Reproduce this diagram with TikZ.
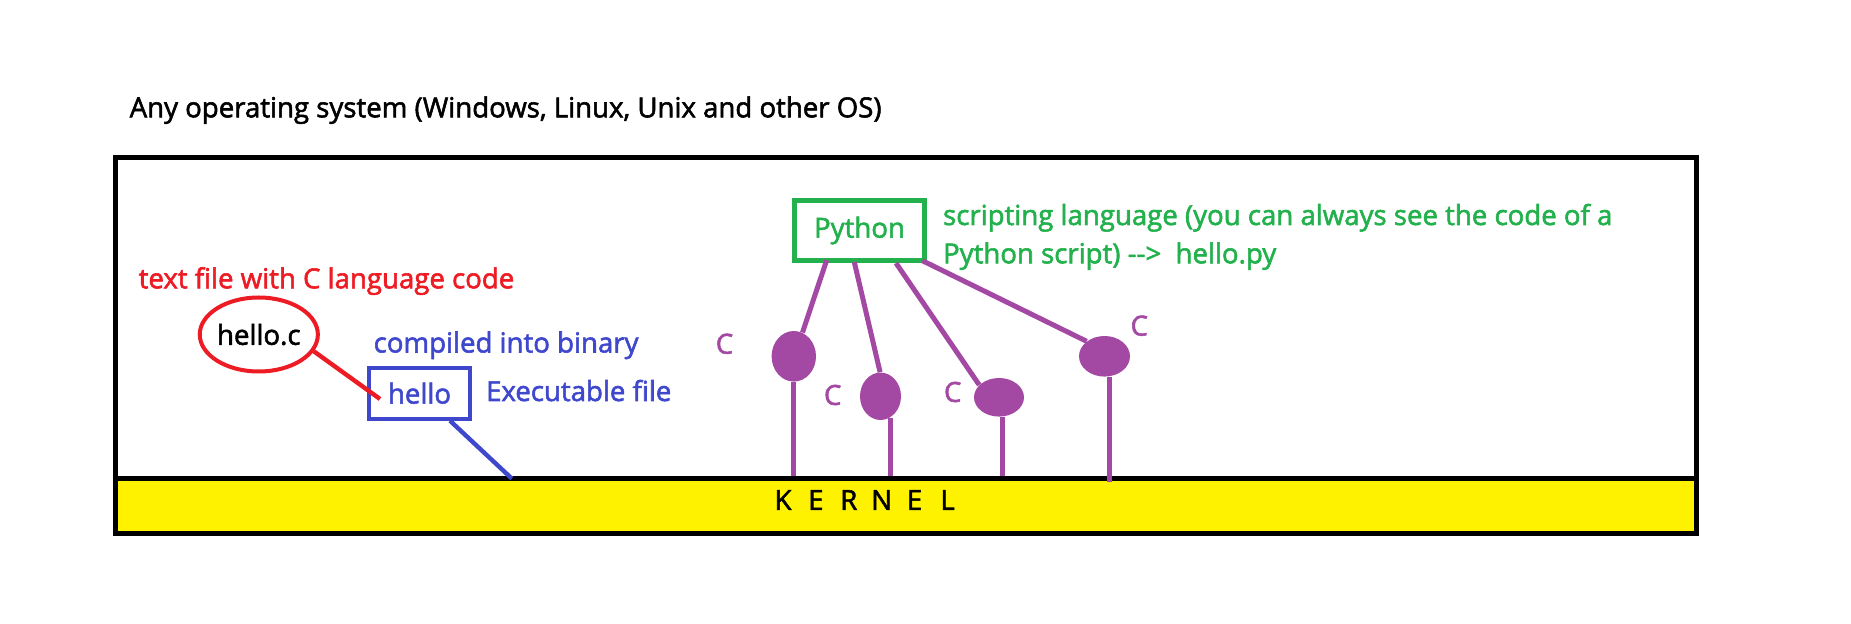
\documentclass[tikz,border=0pt]{standalone}
\usepackage{fontspec}
\setmainfont{Open Sans}[FakeBold=2]
\usetikzlibrary{calc,shapes.geometric}
\definecolor{pred}{HTML}{ED1C24}
\definecolor{pblue}{HTML}{3F48CC}
\definecolor{pgreen}{HTML}{22B14C}
\definecolor{ppurple}{HTML}{A349A4}
\definecolor{pyellow}{HTML}{FFF200}
\newcommand{\kl}[1]{\makebox[16.45pt]{#1}}
\begin{document}
\begin{tikzpicture}[x=0.5pt,y=-0.5pt,
  txt/.style={anchor=base west, inner sep=0pt, font=\fontsize{13.8}{16}\selectfont},
  framebox/.style={draw=black, line width=2.5pt, inner sep=0pt},
  cblob/.style={ellipse, fill=ppurple, inner sep=0pt},
  pline/.style={draw=ppurple, line width=2.5pt},
  clabel/.style={text=ppurple, inner sep=0pt, font=\fontsize{13.8}{16}\selectfont}]
\useasboundingbox (0,0) rectangle (1851,624);

% outer frame and kernel band
\node[framebox, minimum width=790.75pt, minimum height=187.9pt] (os) at (905.75,345.4) {};
\node[framebox, fill=pyellow, minimum width=790.75pt, minimum height=27.4pt] (kernel) at (905.75,505.9) {};
\node[anchor=center, inner sep=0pt, font=\fontsize{13.8}{16}\selectfont] (kt) at (865.25,500) {\kl{K}\kl{E}\kl{R}\kl{N}\kl{E}\kl{L}};

% title
\node[txt] (title) at (129.3,117.3) {Any operating system (Windows, Linux, Unix and other OS)};

% C source
\node[txt, text=pred] (ctext) at (138.3,288.3) {text file with C language code};
\node[ellipse, draw=pred, line width=2pt, minimum width=59pt, minimum height=37pt, inner sep=0pt,
      font=\fontsize{13.8}{16}\selectfont] (hc) at (258.8,334.5) {hello.c};
\node[draw=pblue, line width=2pt, minimum width=50.2pt, minimum height=25.5pt, inner sep=0pt,
      text=pblue, font=\fontsize{13.8}{16}\selectfont] (hello) at (419.5,393.2) {hello};
\coordinate (redend) at (380,399);
\draw[draw=pred, line width=2.2pt] (hc.-17) -- (redend);
\node[txt, text=pblue] (comp) at (373.3,352.5) {compiled into binary};
\node[txt, text=pblue] (exe) at (485.7,401) {Executable file};
\coordinate (blueend) at (511.7,478.5);
\draw[draw=pblue, line width=2.2pt] ($(hello.south)+(30.5,0)$) -- (blueend);

% Python
\node[draw=pgreen, line width=2.4pt, minimum width=65.2pt, minimum height=30.2pt, inner sep=0pt,
      text=pgreen, font=\fontsize{13.8}{16}\selectfont] (py) at (859.5,230.5) {Python};
\node[txt, text=pgreen] (s1) at (942.7,225) {scripting language (you can always see the code of a};
\node[txt, text=pgreen] (s2) at (942.7,263.3) {Python script) -{}->\ \ hello.py};

% C extension modules
\node[cblob, minimum width=22.2pt, minimum height=25.3pt] (e1) at (793.8,356.3) {};
\node[cblob, minimum width=20.5pt, minimum height=23.7pt] (e2) at (880.5,396.3) {};
\node[cblob, minimum width=25pt, minimum height=19.3pt] (e3) at (999,397.3) {};
\node[cblob, minimum width=25.5pt, minimum height=20.3pt] (e4) at (1104.5,356.3) {};

\draw[pline] ($(py.south)+(-32.8,-3)$) -- (e1.70);
\draw[pline] ($(py.south)+(-5.2,-1)$) -- (e2.91);
\draw[pline] ($(py.south)+(36.5,0)$) -- (e3.148);
\draw[pline] ($(py.south east)+(-4.7,-2.4)$) -- (e4.140);

\draw[pline] (e1.south) -- (e1.south |- kernel.north);
\draw[pline] (e2.-66) -- (e2.-66 |- kernel.north);
\draw[pline] (e3.-80) -- (e3.-80 |- kernel.north);
\coordinate (s4end) at ($(e4.-75 |- kernel.north)+(0,6)$);
\draw[pline] (e4.-75) -- (s4end);

\node[clabel] (c1) at (724.5,343.8) {C};
\node[clabel] (c2) at (832.7,395) {C};
\node[clabel] (c3) at (952.7,392) {C};
\node[clabel] (c4) at (1139.3,325.7) {C};
\end{tikzpicture}
\end{document}
